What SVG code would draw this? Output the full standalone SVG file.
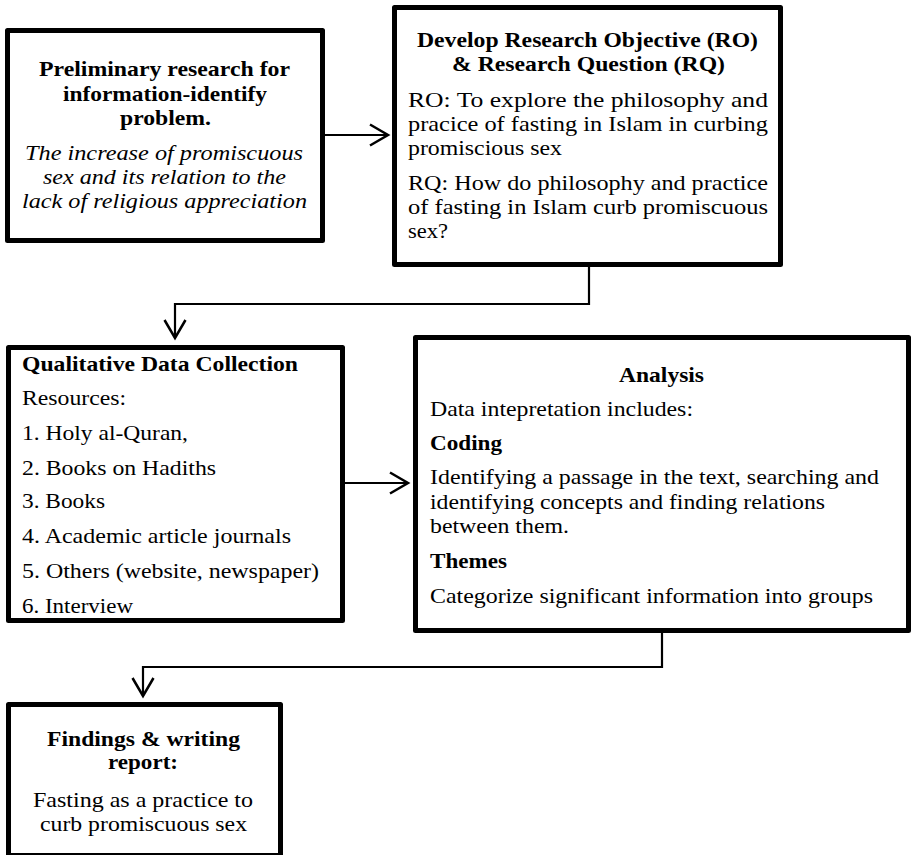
<svg xmlns="http://www.w3.org/2000/svg" width="913" height="855" viewBox="0 0 913 855">
<style>
.box{fill:#fff;stroke:#000;stroke-width:5;stroke-linejoin:round}
text{font-family:'Liberation Serif','Times New Roman',Tinos,'Nimbus Roman','Nimbus Roman No9 L',FreeSerif,'Noto Serif','DejaVu Serif Condensed',serif;font-size:21.5px;fill:#000}
.b{font-weight:bold}
.i{font-style:italic}
.con{fill:none;stroke:#000;stroke-width:2.2}
</style>
<defs>
<marker id="arr" markerUnits="userSpaceOnUse" markerWidth="24" markerHeight="26" viewBox="0 0 24 26" refX="21" refY="13" orient="auto">
<path d="M3,2.5 L21,13 L3,23.5" fill="none" stroke="#000" stroke-width="2.5"/>
</marker>
</defs>
<rect width="913" height="855" fill="#fff"/>
<g id="connectors">
<path class="con" d="M325,135 H388" marker-end="url(#arr)"/>
<path class="con" d="M589,267 V304 H175 V338" marker-end="url(#arr)"/>
<path class="con" d="M345,483 H408" marker-end="url(#arr)"/>
<path class="con" d="M662,633 V667 H143 V696" marker-end="url(#arr)"/>
</g>
<g id="node-preliminary">
<rect class="box" x="7.5" y="30.5" width="315" height="210"/>
<text class="b" x="39" y="76" textLength="251" lengthAdjust="spacingAndGlyphs">Preliminary research for</text>
<text class="b" x="63" y="101" textLength="204" lengthAdjust="spacingAndGlyphs">information-identify</text>
<text class="b" x="120" y="125" textLength="91" lengthAdjust="spacingAndGlyphs">problem.</text>
<text class="i" x="25" y="160" textLength="278" lengthAdjust="spacingAndGlyphs">The increase of promiscuous</text>
<text class="i" x="43" y="184" textLength="243" lengthAdjust="spacingAndGlyphs">sex and its relation to the</text>
<text class="i" x="22" y="208" textLength="285" lengthAdjust="spacingAndGlyphs">lack of religious appreciation</text>
</g>
<g id="node-objective">
<rect class="box" x="394.5" y="7.5" width="386" height="257"/>
<text class="b" x="417" y="47" textLength="341" lengthAdjust="spacingAndGlyphs">Develop Research Objective (RO)</text>
<text class="b" x="452" y="71" textLength="273" lengthAdjust="spacingAndGlyphs">&amp; Research Question (RQ)</text>
<text x="408" y="107" textLength="360" lengthAdjust="spacingAndGlyphs">RO: To explore the philosophy and</text>
<text x="408" y="131" textLength="360" lengthAdjust="spacingAndGlyphs">pracice of fasting in Islam in curbing</text>
<text x="408" y="155" textLength="154" lengthAdjust="spacingAndGlyphs">promiscious sex</text>
<text x="408" y="190" textLength="360" lengthAdjust="spacingAndGlyphs">RQ: How do philosophy and practice</text>
<text x="408" y="214" textLength="360" lengthAdjust="spacingAndGlyphs">of fasting in Islam curb promiscuous</text>
<text x="408" y="238" textLength="40" lengthAdjust="spacingAndGlyphs">sex?</text>
</g>
<g id="node-collection">
<rect class="box" x="8.5" y="347.5" width="334" height="273"/>
<text class="b" x="22" y="371" textLength="276" lengthAdjust="spacingAndGlyphs">Qualitative Data Collection</text>
<text x="22" y="405" textLength="104" lengthAdjust="spacingAndGlyphs">Resources:</text>
<text x="22" y="440" textLength="166" lengthAdjust="spacingAndGlyphs">1. Holy al-Quran,</text>
<text x="22" y="475" textLength="194" lengthAdjust="spacingAndGlyphs">2. Books on Hadiths</text>
<text x="22" y="508" textLength="83" lengthAdjust="spacingAndGlyphs">3. Books</text>
<text x="22" y="543" textLength="269" lengthAdjust="spacingAndGlyphs">4. Academic article journals</text>
<text x="22" y="578" textLength="297" lengthAdjust="spacingAndGlyphs">5. Others (website, newspaper)</text>
<text x="22" y="613" textLength="111" lengthAdjust="spacingAndGlyphs">6. Interview</text>
</g>
<g id="node-analysis">
<rect class="box" x="415.5" y="337.5" width="493" height="293"/>
<text class="b" x="619" y="382" textLength="85" lengthAdjust="spacingAndGlyphs">Analysis</text>
<text x="430" y="416" textLength="263" lengthAdjust="spacingAndGlyphs">Data intepretation includes:</text>
<text class="b" x="430" y="450" textLength="72" lengthAdjust="spacingAndGlyphs">Coding</text>
<text x="430" y="484" textLength="449" lengthAdjust="spacingAndGlyphs">Identifying a passage in the text, searching and</text>
<text x="430" y="509" textLength="395" lengthAdjust="spacingAndGlyphs">identifying concepts and finding relations</text>
<text x="430" y="533" textLength="139" lengthAdjust="spacingAndGlyphs">between them.</text>
<text class="b" x="430" y="568" textLength="77" lengthAdjust="spacingAndGlyphs">Themes</text>
<text x="430" y="603" textLength="443" lengthAdjust="spacingAndGlyphs">Categorize significant information into groups</text>
</g>
<g id="node-findings">
<rect class="box" x="8.5" y="704.5" width="272" height="151"/>
<text class="b" x="47" y="746" textLength="193" lengthAdjust="spacingAndGlyphs">Findings &amp; writing</text>
<text class="b" x="108" y="769" textLength="70" lengthAdjust="spacingAndGlyphs">report:</text>
<text x="33" y="807" textLength="220" lengthAdjust="spacingAndGlyphs">Fasting as a practice to</text>
<text x="40" y="831" textLength="207" lengthAdjust="spacingAndGlyphs">curb promiscuous sex</text>
</g>
</svg>
